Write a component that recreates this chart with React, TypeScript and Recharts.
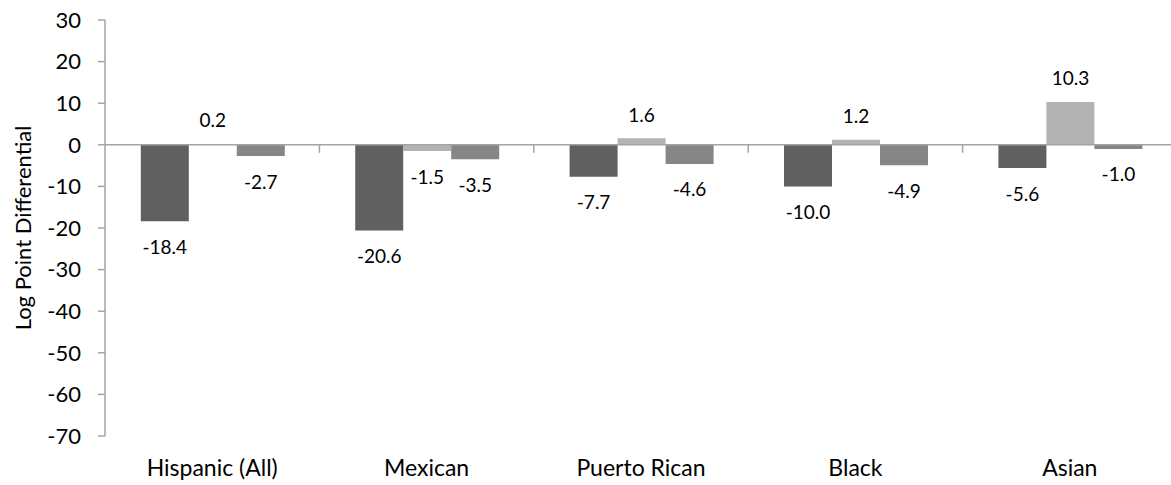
import { BarChart, Bar, XAxis, YAxis, ReferenceLine, LabelList } from 'recharts';

const CATEGORIES = ['Hispanic (All)', 'Mexican', 'Puerto Rican', 'Black', 'Asian'];
const SERIES_DARK = [-18.4, -20.6, -7.7, -10.0, -5.6];
const SERIES_LIGHT = [0.2, -1.5, 1.6, 1.2, 10.3];
const SERIES_MID = [-2.7, -3.5, -4.6, -4.9, -1.0];
const Y_TICKS = [30, 20, 10, 0, -10, -20, -30, -40, -50, -60, -70];

const data = CATEGORIES.map((name, i) => ({
  name,
  dark: SERIES_DARK[i],
  light: SERIES_LIGHT[i],
  mid: SERIES_MID[i],
}));

const FONT = 'Lato, Carlito, Calibri, sans-serif';
const AXIS = '#a3a3a3';
const TEXT = '#000';

function ValueLabel(props: any) {
  const vb = props.viewBox && props.viewBox.width != null ? props.viewBox : props;
  const { x, y, width, height } = vb;
  const v = Number(props.value);
  const top = Math.min(y, y + height);
  const bottom = Math.max(y, y + height);
  const cy = v >= 0 ? top - 24 : bottom + 25;
  return (
    <text x={x + width / 2} y={cy} textAnchor="middle" dominantBaseline="central"
      fontFamily={FONT} fontSize={19} fill={TEXT}>
      {v.toFixed(1)}
    </text>
  );
}

// zero line with small tick marks at the category boundaries
function ZeroLine(props: any) {
  const { x1, y1, x2 } = props;
  const band = (x2 - x1) / CATEGORIES.length;
  return (
    <g>
      <line x1={x1} y1={y1} x2={x2} y2={y1} stroke={AXIS} strokeWidth={1.5} />
      {CATEGORIES.map((c, i) => (
        <line key={c} x1={x1 + band * (i + 1)} y1={y1} x2={x1 + band * (i + 1)} y2={y1 + 8}
          stroke={AXIS} strokeWidth={1.5} />
      ))}
    </g>
  );
}

function CategoryTick(props: any) {
  const { x, y, payload } = props;
  return (
    <text x={x} y={y + 40} textAnchor="middle" fontFamily={FONT} fontSize={23} fill={TEXT}>
      {payload.value}
    </text>
  );
}

function AxisTitle(props: any) {
  const { x, y, height } = props.viewBox;
  const cx = x + 22;
  const cy = y + height / 2;
  return (
    <text x={cx} y={cy} transform={`rotate(-90, ${cx}, ${cy})`} textAnchor="middle"
      dominantBaseline="central" fontFamily={FONT} fontSize={22} fill={TEXT}>
      Log Point Differential
    </text>
  );
}

export default function App() {
  return (
    <div style={{ position: 'absolute', left: 0, top: 0, width: 1171, height: 485, overflow: 'hidden', background: '#fff' }}>
      <BarChart width={1190} height={485} data={data}
        margin={{ top: 20, right: 13, left: 0, bottom: 0 }}
        barCategoryGap="16.7%" barGap={0}>
        <XAxis dataKey="name" interval={0} axisLine={false} tickLine={false}
          tickSize={0} tickMargin={0} height={49} tick={<CategoryTick />} />
        <YAxis domain={[-70, 30]} ticks={Y_TICKS} interval={0} width={105}
          tickSize={7} tickMargin={17}
          axisLine={{ stroke: AXIS, strokeWidth: 1.5 }} tickLine={{ stroke: AXIS, strokeWidth: 1.5 }}
          tick={{ fill: TEXT, fontSize: 22, fontFamily: FONT }}
          label={{ content: <AxisTitle /> }} />
        <ReferenceLine y={0} shape={<ZeroLine />} />
        <Bar dataKey="dark" fill="#606060" isAnimationActive={false}>
          <LabelList dataKey="dark" content={<ValueLabel />} />
        </Bar>
        <Bar dataKey="light" fill="#b3b3b3" isAnimationActive={false}>
          <LabelList dataKey="light" content={<ValueLabel />} />
        </Bar>
        <Bar dataKey="mid" fill="#868686" isAnimationActive={false}>
          <LabelList dataKey="mid" content={<ValueLabel />} />
        </Bar>
      </BarChart>
    </div>
  );
}
